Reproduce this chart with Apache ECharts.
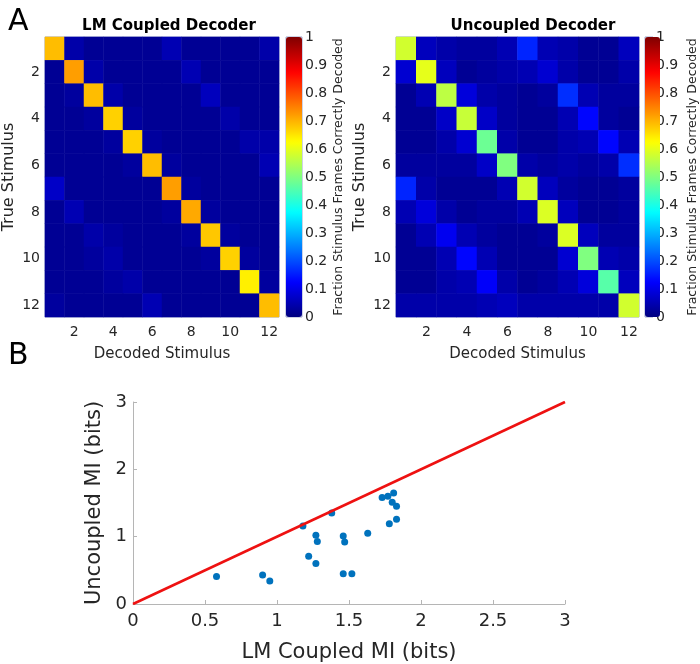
<!DOCTYPE html>
<html>
<head>
<meta charset="utf-8">
<script src="https://cdn.jsdelivr.net/npm/echarts@6/dist/echarts.min.js"></script>
<style>
    html, body { margin: 0; padding: 0; background: #fff; }
    #chart { width: 700px; height: 664px; }
</style>
</head>
<body>
<div id="chart"></div>
<script>
    // stimulus categories (1..12)
    var stimuli = ['1', '2', '3', '4', '5', '6', '7', '8', '9', '10', '11', '12'];

    // confusion matrices, rows = true stimulus, cols = decoded stimulus
    var coupledMatrix = [
        [0.69, 0.04, 0.02, 0.02, 0.02, 0.02, 0.05, 0.02, 0.02, 0.02, 0.02, 0.04],
        [0.02, 0.72, 0.04, 0.02, 0.02, 0.02, 0.02, 0.05, 0.02, 0.02, 0.02, 0.02],
        [0.02, 0.03, 0.69, 0.04, 0.02, 0.02, 0.02, 0.02, 0.06, 0.02, 0.02, 0.02],
        [0.02, 0.02, 0.03, 0.67, 0.03, 0.02, 0.02, 0.02, 0.02, 0.04, 0.02, 0.02],
        [0.02, 0.02, 0.02, 0.03, 0.67, 0.03, 0.02, 0.02, 0.02, 0.02, 0.04, 0.04],
        [0.02, 0.02, 0.02, 0.02, 0.03, 0.69, 0.03, 0.02, 0.02, 0.02, 0.02, 0.05],
        [0.07, 0.02, 0.02, 0.02, 0.02, 0.02, 0.72, 0.03, 0.02, 0.02, 0.02, 0.02],
        [0.02, 0.05, 0.02, 0.02, 0.02, 0.02, 0.03, 0.71, 0.03, 0.02, 0.02, 0.02],
        [0.02, 0.02, 0.04, 0.03, 0.02, 0.02, 0.02, 0.03, 0.68, 0.03, 0.02, 0.02],
        [0.02, 0.02, 0.03, 0.04, 0.02, 0.02, 0.02, 0.02, 0.03, 0.67, 0.03, 0.02],
        [0.02, 0.02, 0.02, 0.03, 0.04, 0.02, 0.02, 0.02, 0.02, 0.02, 0.64, 0.03],
        [0.03, 0.02, 0.02, 0.02, 0.02, 0.05, 0.02, 0.02, 0.02, 0.02, 0.02, 0.69]
    ];

    var uncoupledMatrix = [
        [0.58, 0.06, 0.04, 0.03, 0.03, 0.05, 0.16, 0.05, 0.04, 0.02, 0.02, 0.06],
        [0.08, 0.60, 0.06, 0.02, 0.03, 0.04, 0.05, 0.08, 0.04, 0.02, 0.02, 0.04],
        [0.02, 0.05, 0.56, 0.09, 0.04, 0.03, 0.02, 0.03, 0.17, 0.05, 0.03, 0.03],
        [0.02, 0.02, 0.07, 0.57, 0.07, 0.03, 0.02, 0.02, 0.05, 0.13, 0.03, 0.02],
        [0.02, 0.02, 0.04, 0.08, 0.48, 0.04, 0.02, 0.02, 0.04, 0.05, 0.13, 0.05],
        [0.03, 0.03, 0.03, 0.03, 0.07, 0.50, 0.04, 0.03, 0.04, 0.03, 0.04, 0.17],
        [0.16, 0.04, 0.02, 0.02, 0.02, 0.05, 0.58, 0.06, 0.03, 0.02, 0.02, 0.03],
        [0.05, 0.09, 0.04, 0.02, 0.03, 0.03, 0.05, 0.59, 0.06, 0.02, 0.02, 0.03],
        [0.02, 0.05, 0.11, 0.05, 0.03, 0.02, 0.02, 0.03, 0.59, 0.06, 0.03, 0.03],
        [0.02, 0.02, 0.05, 0.13, 0.05, 0.02, 0.02, 0.02, 0.08, 0.50, 0.05, 0.04],
        [0.02, 0.02, 0.04, 0.05, 0.12, 0.04, 0.02, 0.03, 0.05, 0.09, 0.46, 0.06],
        [0.04, 0.04, 0.04, 0.04, 0.05, 0.06, 0.04, 0.04, 0.04, 0.04, 0.04, 0.58]
    ];

    // mutual information per session (bits)
    var coupledMI = [0.58, 0.90, 0.95, 1.18, 1.22, 1.27, 1.27, 1.28, 1.38, 1.46, 1.47,
        1.46, 1.52, 1.63, 1.73, 1.77, 1.81, 1.80, 1.83, 1.78, 1.83];
    var uncoupledMI = [0.41, 0.43, 0.34, 1.16, 0.71, 0.60, 1.02, 0.93, 1.35, 1.01, 0.92,
        0.45, 0.45, 1.05, 1.58, 1.60, 1.65, 1.51, 1.45, 1.19, 1.26];

    // unity line
    var unityX = [0, 3];
    var unityY = [0, 3];

    var colorbarTicks = [0, 0.1, 0.2, 0.3, 0.4, 0.5, 0.6, 0.7, 0.8, 0.9, 1];

    // jet colormap
    var jet = ['#000080', '#0000ff', '#0080ff', '#00ffff', '#80ff80', '#ffff00', '#ff8000', '#ff0000', '#800000'];

    var font = 'DejaVu Sans';
    var textColor = '#262626';

    function toCells(matrix) {
        var cells = [];
        for (var r = 0; r < matrix.length; r++) {
            for (var c = 0; c < matrix[r].length; c++) {
                cells.push([c, r, matrix[r][c]]);
            }
        }
        return cells;
    }

    function evenOnly(index) {
        return index % 2 === 1;
    }

    function heatX(gridIndex) {
        return {
            type: 'category', gridIndex: gridIndex, data: stimuli,
            name: 'Decoded Stimulus', nameLocation: 'middle', nameGap: 30,
            nameTextStyle: { fontFamily: font, fontSize: 15, color: textColor },
            axisLine: { show: false },
            axisTick: { show: true, inside: true, length: 3, alignWithLabel: true, interval: evenOnly, lineStyle: { color: '#555' } },
            axisLabel: { interval: evenOnly, fontFamily: font, fontSize: 14, color: textColor, margin: 8 },
            splitLine: { show: false }
        };
    }

    function heatY(gridIndex) {
        return {
            type: 'category', gridIndex: gridIndex, data: stimuli, inverse: true,
            name: 'True Stimulus', nameLocation: 'middle', nameGap: 28,
            nameTextStyle: { fontFamily: font, fontSize: 16, color: textColor },
            axisLine: { show: false },
            axisTick: { show: true, inside: true, length: 3, alignWithLabel: true, interval: evenOnly, lineStyle: { color: '#555' } },
            axisLabel: { interval: evenOnly, fontFamily: font, fontSize: 14, color: textColor, margin: 5 },
            splitLine: { show: false }
        };
    }

    function barX(gridIndex) {
        return { type: 'value', gridIndex: gridIndex, min: 0, max: 1, show: false };
    }

    function barY(gridIndex, gap) {
        return {
            type: 'value', gridIndex: gridIndex, min: 0, max: 1, interval: 0.1, position: 'right',
            name: 'Fraction Stimulus Frames Correctly Decoded', nameLocation: 'middle', nameGap: gap, nameRotate: 90,
            nameTextStyle: { fontFamily: font, fontSize: 12.5, color: textColor },
            axisLine: { show: false },
            axisTick: { show: false },
            axisLabel: {
                fontFamily: font, fontSize: 14, color: textColor, margin: 3,
                customValues: colorbarTicks
            },
            splitLine: { show: false }
        };
    }

    var myChart = echarts.init(document.getElementById('chart'));

    var option = {
        backgroundColor: '#fff',
        animation: false,
        title: [
            { text: 'LM Coupled Decoder', left: 164, top: 14, textAlign: 'center',
                textStyle: { fontFamily: font, fontSize: 15, fontWeight: 'bold', color: '#000' } },
            { text: 'Uncoupled Decoder', left: 528, top: 14, textAlign: 'center',
                textStyle: { fontFamily: font, fontSize: 15, fontWeight: 'bold', color: '#000' } },
            { text: 'A', left: 3, top: 2, textStyle: { fontFamily: font, fontSize: 30, fontWeight: 'normal', color: '#000' } },
            { text: 'B', left: 3, top: 336, textStyle: { fontFamily: font, fontSize: 30, fontWeight: 'normal', color: '#000' } }
        ],
        grid: [
            { left: 38, top: 37, width: 241, height: 280, show: true, borderColor: '#9aa4cc', borderWidth: 1 },
            { left: 396, top: 37, width: 243, height: 280, show: true, borderColor: '#9aa4cc', borderWidth: 1 },
            { left: 286, top: 37, width: 16, height: 280, show: true, borderColor: '#9aa4cc', borderWidth: 1 },
            { left: 645, top: 37, width: 15, height: 280, show: true, borderColor: '#9aa4cc', borderWidth: 1 },
            { left: 133, top: 402, width: 432, height: 205 }
        ],
        visualMap: [
            { type: 'continuous', min: 0, max: 1, seriesIndex: 0, show: true, calculable: false,
                left: 286, top: 37, itemWidth: 16, itemHeight: 280, padding: 0, text: null, showLabel: false,
                inRange: { color: jet }, hoverLink: false },
            { type: 'continuous', min: 0, max: 1, seriesIndex: 1, show: true, calculable: false,
                left: 645, top: 37, itemWidth: 15, itemHeight: 280, padding: 0, text: null, showLabel: false,
                inRange: { color: jet }, hoverLink: false }
        ],
        xAxis: [
            heatX(0),
            heatX(1),
            barX(2),
            barX(3),
            {
                type: 'value', gridIndex: 4, min: 0, max: 3, interval: 0.5,
                name: 'LM Coupled MI (bits)', nameLocation: 'middle', nameGap: 38,
                nameTextStyle: { fontFamily: font, fontSize: 21, color: textColor },
                axisLine: { lineStyle: { color: '#b5b5b5', width: 1 } },
                axisTick: { inside: true, length: 4, lineStyle: { color: '#b5b5b5' } },
                axisLabel: { fontFamily: font, fontSize: 18, color: textColor, margin: 8 },
                splitLine: { show: false }
            }
        ],
        yAxis: [
            heatY(0),
            heatY(1),
            barY(2, 30),
            barY(3, 33),
            {
                type: 'value', gridIndex: 4, min: 0, max: 3, interval: 1,
                name: 'Uncoupled MI (bits)', nameLocation: 'middle', nameGap: 28,
                nameTextStyle: { fontFamily: font, fontSize: 21, color: textColor },
                axisLine: { show: true, lineStyle: { color: '#b5b5b5', width: 1 } },
                axisTick: { show: true, inside: true, length: 4, lineStyle: { color: '#b5b5b5' } },
                axisLabel: { fontFamily: font, fontSize: 18, color: textColor, margin: 6 },
                splitLine: { show: false }
            }
        ],
        series: [
            { type: 'heatmap', xAxisIndex: 0, yAxisIndex: 0, data: toCells(coupledMatrix) },
            { type: 'heatmap', xAxisIndex: 1, yAxisIndex: 1, data: toCells(uncoupledMatrix) },
            {
                type: 'line', xAxisIndex: 4, yAxisIndex: 4, showSymbol: false,
                data: unityX.map(function (x, i) { return [x, unityY[i]]; }),
                lineStyle: { color: '#ee1111', width: 2.5 }
            },
            {
                type: 'scatter', xAxisIndex: 4, yAxisIndex: 4, symbolSize: 7,
                data: coupledMI.map(function (x, i) { return [x, uncoupledMI[i]]; }),
                itemStyle: { color: '#0072BD', opacity: 1 }
            }
        ]
    };

    myChart.setOption(option);
</script>
</body>
</html>
